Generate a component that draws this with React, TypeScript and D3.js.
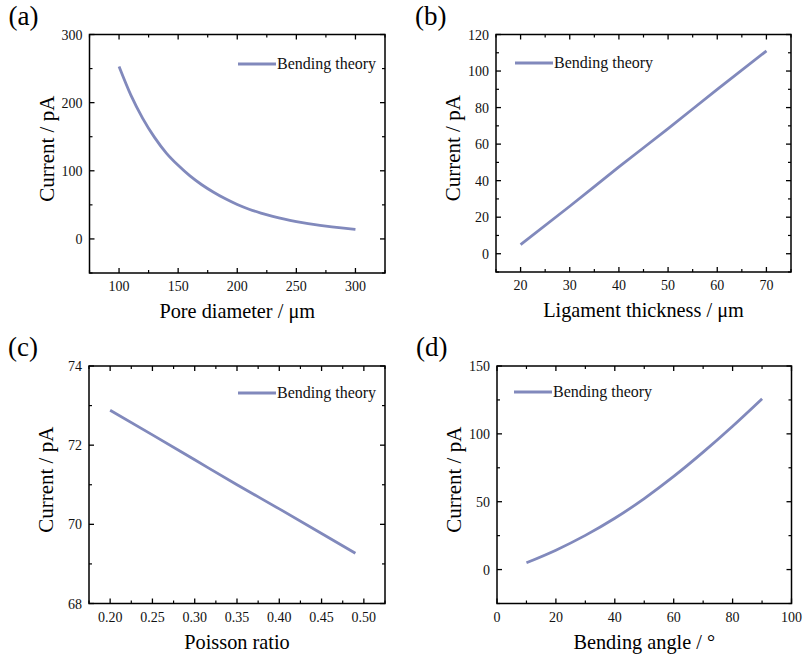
import React from "react";
import * as d3 from "d3";

// ---- Data ----
const poreDiameter = [100, 110, 120, 130, 140, 150, 160, 170, 180, 190, 200, 210, 220, 230, 240, 250, 260, 270, 280, 290, 300];
const poreCurrent = [253, 211, 177, 149, 126, 108, 92.5, 79.5, 68.5, 58.8, 50.5, 43.6, 38, 33.2, 29, 25.5, 22.5, 20, 17.8, 15.8, 14];

const ligamentThickness = [20, 30, 40, 50, 60, 70];
const ligamentCurrent = [5, 26, 47.5, 68.5, 90, 111];

const poissonRatio = [0.2, 0.25, 0.3, 0.35, 0.4, 0.45, 0.49];
const poissonCurrent = [72.88, 72.26, 71.63, 71.0, 70.39, 69.77, 69.27];

const bendingAngle = [10, 20, 30, 40, 50, 60, 70, 80, 90];
const angleCurrent = [5, 14.3, 25.2, 37.8, 52.3, 68.6, 86.5, 105.6, 125.8];

const ticksA_x = [100, 150, 200, 250, 300];
const ticksA_y = [0, 100, 200, 300];
const ticksB_x = [20, 30, 40, 50, 60, 70];
const ticksB_y = [0, 20, 40, 60, 80, 100, 120];
const ticksC_x = [0.2, 0.25, 0.3, 0.35, 0.4, 0.45, 0.5];
const ticksC_y = [68, 70, 72, 74];
const ticksD_x = [0, 20, 40, 60, 80, 100];
const ticksD_y = [0, 50, 100, 150];

const LINE_COLOR = "#8189bc";
const FONT = "'Liberation Serif', 'Times New Roman', serif";

type PanelProps = {
  label: string;
  left: number; top: number; right: number; bottom: number;
  xDomain: [number, number]; yDomain: [number, number];
  xTicks: number[]; yTicks: number[];
  xFmt: (v: number) => string; yFmt: (v: number) => string;
  xs: number[]; ys: number[];
  xTitle: string;
  legendX: number; legendY: number;
};

function minorTicks(ticks: number[], domain: [number, number]) {
  const step = ticks[1] - ticks[0];
  const res: number[] = [];
  const start = ticks[0] - step / 2;
  for (let v = start; v <= domain[1] + 1e-9; v += step) {
    if (v >= domain[0] - 1e-9) res.push(v);
  }
  return res;
}

function Panel(p: PanelProps) {
  const x = d3.scaleLinear().domain(p.xDomain).range([p.left, p.right]);
  const y = d3.scaleLinear().domain(p.yDomain).range([p.bottom, p.top]);
  const line = d3.line<number>().x((_, i) => x(p.xs[i])).y((d) => y(d)).curve(d3.curveMonotoneX);
  const xMinor = minorTicks(p.xTicks, p.xDomain);
  const yMinor = minorTicks(p.yTicks, p.yDomain);
  const TL = 5, TM = 3;
  const cx = (p.left + p.right) / 2;
  const cy = (p.top + p.bottom) / 2 - 5;
  return (
    <g>
      <text x={p.left - 81} y={p.top - 10} fontFamily={FONT} fontSize={27} fill="#000">{p.label}</text>
      <path d={line(p.ys) || ""} fill="none" stroke={LINE_COLOR} strokeWidth={2.8} />
      <rect x={p.left} y={p.top} width={p.right - p.left} height={p.bottom - p.top} fill="none" stroke="#000" strokeWidth={1.5} />
      {p.xTicks.map((t) => (
        <g key={"xt" + t}>
          <line x1={x(t)} x2={x(t)} y1={p.bottom} y2={p.bottom - TL} stroke="#000" strokeWidth={1.3} />
          <line x1={x(t)} x2={x(t)} y1={p.top} y2={p.top + TL} stroke="#000" strokeWidth={1.3} />
          <text x={x(t)} y={p.bottom + 18} textAnchor="middle" fontFamily={FONT} fontSize={14} fill="#111">{p.xFmt(t)}</text>
        </g>
      ))}
      {xMinor.map((t) => (
        <g key={"xm" + t}>
          <line x1={x(t)} x2={x(t)} y1={p.bottom} y2={p.bottom - TM} stroke="#000" strokeWidth={1.2} />
          <line x1={x(t)} x2={x(t)} y1={p.top} y2={p.top + TM} stroke="#000" strokeWidth={1.2} />
        </g>
      ))}
      {p.yTicks.map((t) => (
        <g key={"yt" + t}>
          <line x1={p.left} x2={p.left + TL} y1={y(t)} y2={y(t)} stroke="#000" strokeWidth={1.3} />
          <line x1={p.right} x2={p.right - TL} y1={y(t)} y2={y(t)} stroke="#000" strokeWidth={1.3} />
          <text x={p.left - 7} y={y(t) + 5} textAnchor="end" fontFamily={FONT} fontSize={14} fill="#111">{p.yFmt(t)}</text>
        </g>
      ))}
      {yMinor.map((t) => (
        <g key={"ym" + t}>
          <line x1={p.left} x2={p.left + TM} y1={y(t)} y2={y(t)} stroke="#000" strokeWidth={1.2} />
          <line x1={p.right} x2={p.right - TM} y1={y(t)} y2={y(t)} stroke="#000" strokeWidth={1.2} />
        </g>
      ))}
      <text x={cx} y={p.bottom + 45} textAnchor="middle" fontFamily={FONT} fontSize={20.3} fill="#000">{p.xTitle}</text>
      <text transform={`translate(${p.left - 36},${cy}) rotate(-90)`} textAnchor="middle" fontFamily={FONT} fontSize={21} fill="#000">Current / pA</text>
      <line x1={p.legendX} x2={p.legendX + 38} y1={p.legendY} y2={p.legendY} stroke={LINE_COLOR} strokeWidth={2.8} />
      <text x={p.legendX + 39} y={p.legendY + 5} fontFamily={FONT} fontSize={16} fill="#111">Bending theory</text>
    </g>
  );
}

const fmtInt = (v: number) => d3.format("d")(v);
const fmt2 = (v: number) => d3.format(".2f")(v);

export default function App() {
  return (
    <svg width={804} height={658} style={{ position: "absolute", left: 0, top: 0, background: "#fff" }}>
      <rect width={804} height={658} fill="#fff" />
      <Panel label="(a)" left={89.5} top={34.5} right={385} bottom={273}
        xDomain={[75, 325]} yDomain={[-50, 300]} xTicks={ticksA_x} yTicks={ticksA_y}
        xFmt={fmtInt} yFmt={fmtInt} xs={poreDiameter} ys={poreCurrent}
        xTitle="Pore diameter / μm" legendX={238} legendY={64} />
      <Panel label="(b)" left={496} top={34.5} right={791} bottom={272}
        xDomain={[15, 75]} yDomain={[-10, 120]} xTicks={ticksB_x} yTicks={ticksB_y}
        xFmt={fmtInt} yFmt={fmtInt} xs={ligamentThickness} ys={ligamentCurrent}
        xTitle="Ligament thickness / μm" legendX={515} legendY={63} />
      <Panel label="(c)" left={89} top={366} right={385} bottom={603.5}
        xDomain={[0.175, 0.525]} yDomain={[68, 74]} xTicks={ticksC_x} yTicks={ticksC_y}
        xFmt={fmt2} yFmt={fmtInt} xs={poissonRatio} ys={poissonCurrent}
        xTitle="Poisson ratio" legendX={238} legendY={393} />
      <Panel label="(d)" left={497} top={366} right={791.5} bottom={603.5}
        xDomain={[0, 100]} yDomain={[-25, 150]} xTicks={ticksD_x} yTicks={ticksD_y}
        xFmt={fmtInt} yFmt={fmtInt} xs={bendingAngle} ys={angleCurrent}
        xTitle="Bending angle / °" legendX={514} legendY={392} />
    </svg>
  );
}
